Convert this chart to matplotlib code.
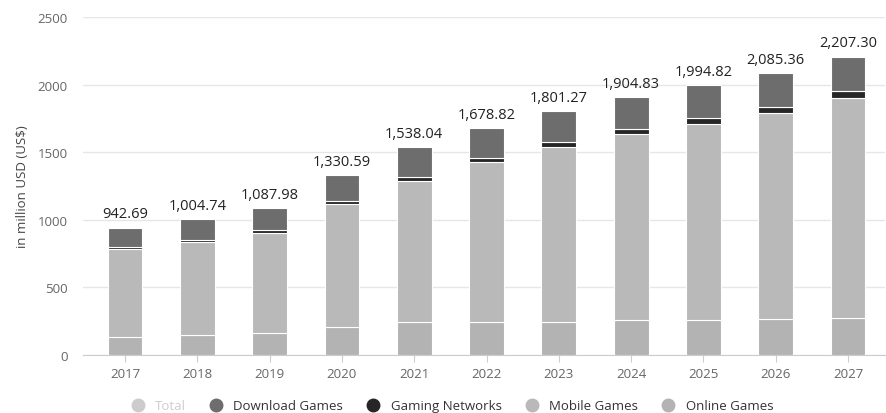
import numpy as np
import matplotlib.pyplot as plt
from matplotlib.lines import Line2D

years = ['2017', '2018', '2019', '2020', '2021', '2022', '2023', '2024', '2025', '2026', '2027']
totals = [942.69, 1004.74, 1087.98, 1330.59, 1538.04, 1678.82, 1801.27, 1904.83, 1994.82, 2085.36, 2207.30]
online = [135, 148, 163, 209, 241, 241, 243, 262, 262, 269, 277]
mobile = [650, 687, 742, 908, 1049, 1187, 1299, 1369, 1450, 1522, 1625]
networks = [15, 18, 20, 25, 30, 32, 36, 38, 42, 45, 48]
download = [t - o - m - n for t, o, m, n in zip(totals, online, mobile, networks)]

plt.rcParams['font.family'] = ['Open Sans', 'DejaVu Sans']

fig = plt.figure(figsize=(8.87, 4.14), dpi=100)
ax = fig.add_axes([83 / 887, 1 - 356 / 414, 802 / 887, 338 / 414])

x = np.arange(len(years))
w = 0.48
bottom = np.zeros(len(years))
series = [(online, '#b3b3b3'), (mobile, '#b9b9b9'), (networks, '#262626'), (download, '#6d6d6d')]
for vals, col in series:
    ax.bar(x, vals, w, bottom=bottom, color=col, edgecolor='white', linewidth=0.8, zorder=3)
    bottom += np.array(vals)

for i, t in enumerate(totals):
    ax.text(x[i], t + 45, f'{t:,.2f}', ha='center', va='bottom', fontsize=10.5, color='#222222')

ax.set_xlim(-0.58, 10.51)
ax.set_ylim(0, 2500)
ax.set_yticks([0, 500, 1000, 1500, 2000, 2500])
ax.set_xticks(x)
ax.set_xticklabels(years)
ax.yaxis.grid(True, color='#e6e6e6', linewidth=1, zorder=0)
for s in ['top', 'right', 'left']:
    ax.spines[s].set_visible(False)
ax.spines['bottom'].set_color('#cccccc')
ax.tick_params(axis='y', length=0, labelsize=9.5, labelcolor='#666666', pad=11)
ax.tick_params(axis='x', length=5, color='#cccccc', labelsize=9.5, labelcolor='#666666')
ax.set_ylabel('in million USD (US$)', fontsize=9.5, color='#444444', labelpad=6)

handles = [Line2D([], [], marker='o', ls='', color=c, markersize=9)
           for c in ['#cccccc', '#6d6d6d', '#262626', '#b9b9b9', '#b3b3b3']]
labels = ['Total', 'Download Games', 'Gaming Networks', 'Mobile Games', 'Online Games']
leg = fig.legend(handles, labels, loc='center', bbox_to_anchor=(0.506, 0.017), ncol=5,
                 frameon=False, fontsize=9.5, handletextpad=0.3, columnspacing=1.3)
leg.get_texts()[0].set_color('#cccccc')
for t in leg.get_texts()[1:]:
    t.set_color('#333333')

fig.savefig('out.png', dpi=100)
